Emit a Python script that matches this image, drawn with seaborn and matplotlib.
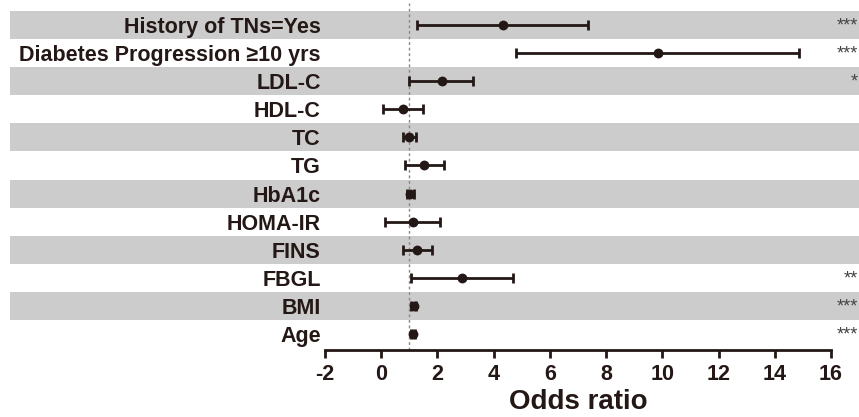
import matplotlib
matplotlib.use('Agg')
import matplotlib.pyplot as plt
import seaborn as sns
import pandas as pd

# 数据 (从下到上)
labels = ['Age', 'BMI', 'FBGL', 'FINS', 'HOMA-IR', 'HbA1c', 'TG', 'TC',
          'HDL-C', 'LDL-C', 'Diabetes Progression \u226510 yrs', 'History of TNs=Yes']
odds = [1.13, 1.15, 2.87, 1.29, 1.12, 1.03, 1.51, 1.00, 0.78, 2.16, 9.85, 4.34]
ci_low = [1.07, 1.06, 1.07, 0.79, 0.14, 0.90, 0.83, 0.77, 0.06, 1.00, 4.80, 1.28]
ci_high = [1.19, 1.24, 4.69, 1.80, 2.10, 1.16, 2.22, 1.24, 1.49, 3.26, 14.87, 7.37]
stars = ['***', '***', '**', '', '', '', '', '', '', '*', '***', '***']

df = pd.DataFrame({'label': labels, 'odds': odds, 'low': ci_low, 'high': ci_high, 'stars': stars})
df['y'] = range(len(df))

sns.set_style('ticks')
plt.rcParams['font.family'] = ['Liberation Sans', 'DejaVu Sans']
plt.rcParams['font.weight'] = 'bold'
plt.rcParams['axes.unicode_minus'] = False

ink = '#231815'
fig = plt.figure(figsize=(8.59, 4.17), dpi=100)
ax = fig.add_axes([325 / 859, 67 / 417, 506 / 859, 339 / 417])

# 灰色条纹
for y in df['y']:
    if y % 2 == 1:
        ax.axhspan(y - 0.5, y + 0.5, xmin=-0.6225, xmax=1.06, color='#cccccc',
                   lw=0, zorder=0, clip_on=False)

# 参考线
ax.axvline(1, ymin=0, ymax=1.024, color='#888888', lw=1, ls=(0, (2, 2)),
           zorder=1, clip_on=False)

# 置信区间
ax.errorbar(df['odds'], df['y'],
            xerr=[df['odds'] - df['low'], df['high'] - df['odds']],
            fmt='none', ecolor=ink, elinewidth=2, capsize=3.3, capthick=2, zorder=3)
sns.scatterplot(data=df, x='odds', y='y', ax=ax, color=ink, s=50,
                edgecolor=ink, linewidth=0, zorder=4, legend=False)

# 显著性标记
for _, r in df.iterrows():
    if r['stars']:
        ax.text(16.95, r['y'] - 0.2, r['stars'], ha='right', va='baseline',
                fontsize=13, color='#444444', fontweight='normal', clip_on=False)

ax.set_xlim(-2, 16)
ax.set_ylim(-0.57, 11.5)
ax.set_xticks(range(-2, 17, 2))
ax.set_yticks(df['y'])
ax.set_yticklabels(df['label'], fontsize=15.5, fontweight='bold', color=ink)
ax.tick_params(axis='y', length=0, pad=3)
ax.tick_params(axis='x', length=6, width=2, labelsize=15.5, colors=ink, pad=4)
for t in ax.get_xticklabels():
    t.set_fontweight('bold')
ax.set_xlabel('Odds ratio', fontsize=20, fontweight='bold', color=ink, labelpad=3)
ax.set_ylabel('')

sns.despine(ax=ax, left=True)
ax.spines['bottom'].set_linewidth(2)
ax.spines['bottom'].set_color(ink)
ax.patch.set_alpha(0)

fig.savefig('out.png', dpi=100)
